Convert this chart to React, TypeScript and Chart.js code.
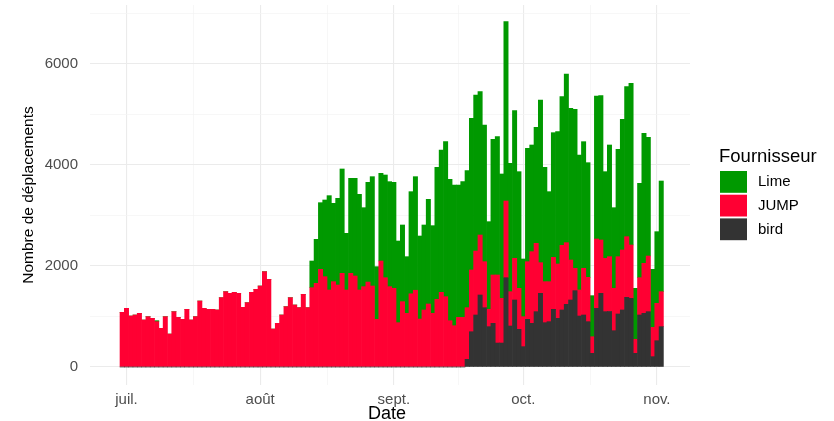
import React, { useEffect, useRef } from "react";
import { Chart, registerables } from "chart.js";

Chart.register(...registerables);

// Day index 0 = 30 juin, 1 = 1 juil., ... 125 = 2 nov.
const monthTickPositions = [1, 32, 63, 93, 124];
const monthTickLabels = ["juil.", "août", "sept.", "oct.", "nov."];
const minorXTicks = [16.5, 47.5, 78, 108.5];
const yMajorTicks = [0, 2000, 4000, 6000];
const yMinorTicks = [1000, 3000, 5000, 7000];

const seriesNames = ["Lime", "JUMP", "bird"];
const seriesColors = ["#009900", "#FF0033", "#333333"];

const lime = [
  0, 0, 0, 0, 0, 0, 0, 0, 20, 0,
  0, 0, 0, 0, 0, 0, 0, 0, 0, 0,
  0, 0, 0, 0, 0, 0, 0, 0, 0, 0,
  0, 0, 0, 0, 0, 0, 0, 0, 0, 0,
  0, 0, 0, 0, 528, 871, 1320, 1518, 1868, 1551,
  1716, 2066, 1122, 1881, 1934, 1894, 1564, 1974, 2165, 1043,
  1736, 2033, 2079, 2099, 1617, 1518, 1122, 2022, 2249, 1644,
  1683, 2072, 1736, 2614, 2818, 3069, 2799, 2786, 2621, 2687,
  2713, 3003, 3089, 2838, 2706, 1736, 2686, 2739, 2462, 3551,
  2541, 2924, 2310, 1142, 2244, 2112, 2297, 3221, 2264, 1782,
  2468, 2620, 2944, 3340, 3003, 3148, 2673, 2508, 2270, 813,
  2831, 2858, 1716, 2211, 1597, 2125, 2587, 2970, 3201, 1010,
  1868, 2574, 2350, 1149, 1419, 2191,
];

const jump = [
  1083, 1162, 1010, 1030, 1063, 931, 997, 964, 898, 766,
  997, 653, 1096, 983, 944, 1142, 931, 997, 1307, 1162,
  1142, 1142, 1129, 1373, 1492, 1459, 1479, 1459, 1182, 1274,
  1479, 1538, 1604, 1888, 1736, 752, 865, 1030, 1195, 1373,
  1228, 1175, 1439, 1175, 1571, 1657, 1934, 1789, 1525, 1690,
  1624, 1855, 1525, 1855, 1802, 1525, 1591, 1683, 1604, 944,
  2099, 1769, 1591, 1558, 878, 1294, 1063, 1450, 1520, 950,
  1129, 1248, 1063, 1340, 1479, 1393, 917, 818, 983, 983,
  1023, 1222, 1267, 1188, 911, 343, 957, 1347, 885, 1518,
  680, 825, 812, 594, 1142, 1419, 1353, 607, 812, 792,
  1030, 1076, 1280, 1221, 792, 442, 515, 924, 878, 329,
  1373, 1056, 1056, 1085, 839, 1135, 1188, 1201, 1056, 277,
  739, 990, 1102, 580, 740, 693,
];

const bird = [
  0, 0, 0, 0, 0, 0, 0, 0, 0, 0,
  0, 0, 0, 0, 0, 0, 0, 0, 0, 0,
  0, 0, 0, 0, 0, 0, 0, 0, 0, 0,
  0, 0, 0, 0, 0, 0, 0, 0, 0, 0,
  0, 0, 0, 0, 0, 0, 0, 0, 0, 0,
  0, 0, 0, 0, 0, 0, 0, 0, 0, 0,
  0, 0, 0, 0, 0, 0, 0, 0, 0, 0,
  0, 0, 0, 0, 0, 0, 0, 0, 0, 0,
  152, 699, 1030, 1426, 1175, 799, 865, 475, 475, 1769,
  812, 1327, 746, 403, 944, 865, 1096, 1459, 878, 898,
  1142, 964, 1129, 1241, 1327, 1512, 1010, 1030, 898, 271,
  1162, 1459, 1096, 1100, 719, 1050, 1129, 1380, 1360, 271,
  1030, 1063, 1096, 205, 521, 799,
];

const FONT = "'Liberation Sans', Arial, Helvetica, sans-serif";

const toPoints = (arr: number[]) => arr.map((v, i) => ({ x: i, y: v }));

const decorations = {
  id: "decorations",
  afterDraw(chart: any) {
    const ctx = chart.ctx as CanvasRenderingContext2D;
    const a = chart.chartArea;
    ctx.save();
    ctx.fillStyle = "#000000";
    ctx.font = `18px ${FONT}`;
    ctx.textAlign = "center";
    ctx.textBaseline = "alphabetic";
    ctx.fillText("Date", (a.left + a.right) / 2 - 3, 419);

    ctx.save();
    ctx.translate(29, (a.top + a.bottom) / 2);
    ctx.rotate(-Math.PI / 2);
    ctx.font = `15.5px ${FONT}`;
    ctx.textBaseline = "middle";
    ctx.fillText("Nombre de déplacements", 0, 0);
    ctx.restore();

    ctx.textAlign = "left";
    ctx.textBaseline = "alphabetic";
    ctx.font = `18.5px ${FONT}`;
    ctx.fillText("Fournisseur", 719, 162);
    ctx.font = `15px ${FONT}`;
    ctx.textBaseline = "middle";
    seriesNames.forEach((name, i) => {
      const top = 171 + i * 23.7;
      ctx.fillStyle = seriesColors[i];
      ctx.fillRect(720, top, 27, 21.8);
      ctx.fillStyle = "#000000";
      ctx.fillText(name, 758, top + 11);
    });
    ctx.restore();
  },
};

export default function App() {
  const canvasRef = useRef<HTMLCanvasElement | null>(null);

  useEffect(() => {
    if (!canvasRef.current) return;
    const datasets = [
      { label: seriesNames[2], data: toPoints(bird), backgroundColor: seriesColors[2] },
      { label: seriesNames[1], data: toPoints(jump), backgroundColor: seriesColors[1] },
      { label: seriesNames[0], data: toPoints(lime), backgroundColor: seriesColors[0] },
    ].map((d) => ({
      ...d,
      borderWidth: 0,
      barPercentage: 1,
      categoryPercentage: 1,
    }));

    const isMajorX = (v: number) => monthTickPositions.includes(v);
    const isMajorY = (v: number) => yMajorTicks.includes(v);

    const zeroPad = (scale: any) => {
      scale.paddingTop = 0;
      scale.paddingBottom = 0;
      scale.paddingLeft = 0;
      scale.paddingRight = 0;
    };

    const chart = new Chart(canvasRef.current, {
      type: "bar",
      data: { datasets },
      plugins: [decorations],
      options: {
        animation: false,
        responsive: true,
        maintainAspectRatio: false,
        layout: { padding: { left: 0, top: 5, right: 144, bottom: 0 } },
        plugins: { legend: { display: false }, tooltip: { enabled: false } },
        scales: {
          x: {
            type: "linear",
            stacked: true,
            offset: false,
            min: -7.46,
            max: 131.67,
            border: { display: false },
            grid: {
              offset: false,
              drawTicks: false,
              color: (c: any) => (isMajorX(c.tick?.value) ? "#EBEBEB" : "#F3F3F3"),
              lineWidth: (c: any) => (isMajorX(c.tick?.value) ? 1.1 : 0.7),
            },
            afterFit: (scale: any) => {
              scale.height = 36;
              zeroPad(scale);
            },
            afterBuildTicks: (scale: any) => {
              scale.ticks = [...monthTickPositions, ...minorXTicks]
                .sort((p, q) => p - q)
                .map((v) => ({ value: v }));
            },
            ticks: {
              autoSkip: false,
              maxRotation: 0,
              padding: 6,
              color: "#4D4D4D",
              font: { family: FONT, size: 15 },
              callback: (v: any) => {
                const idx = monthTickPositions.indexOf(Number(v));
                return idx >= 0 ? monthTickLabels[idx] : "";
              },
            },
          },
          y: {
            type: "linear",
            stacked: true,
            min: -356,
            max: 7168,
            border: { display: false },
            grid: {
              drawTicks: false,
              color: (c: any) => (isMajorY(c.tick?.value) ? "#EBEBEB" : "#F3F3F3"),
              lineWidth: (c: any) => (isMajorY(c.tick?.value) ? 1.1 : 0.7),
            },
            afterFit: (scale: any) => {
              scale.width = 90;
              zeroPad(scale);
            },
            afterBuildTicks: (scale: any) => {
              scale.ticks = [...yMajorTicks, ...yMinorTicks]
                .sort((p, q) => p - q)
                .map((v) => ({ value: v }));
            },
            ticks: {
              padding: 12,
              color: "#4D4D4D",
              font: { family: FONT, size: 15 },
              callback: (v: any) => (isMajorY(Number(v)) ? String(v) : ""),
            },
          },
        },
      },
    } as any);

    return () => chart.destroy();
  }, []);

  return (
    <div
      style={{
        position: "fixed",
        left: 0,
        top: 0,
        width: 834,
        height: 421,
        background: "#FFFFFF",
      }}
    >
      <canvas ref={canvasRef} />
    </div>
  );
}
